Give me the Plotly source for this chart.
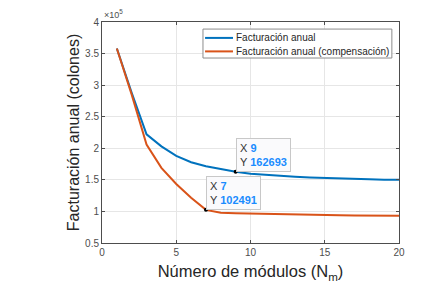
import plotly.graph_objects as go

modules = list(range(1, 21))
fact_anual = [358000, 288000, 222000, 203000, 188000, 178000, 171500, 166500, 162693, 159700,
              157800, 156200, 154900, 153800, 152800, 152000, 151400, 150800, 150300, 150000]
fact_comp = [358000, 285000, 206000, 169000, 143500, 121500, 102491, 97800, 97200, 96600,
             96100, 95600, 95100, 94700, 94300, 94000, 93700, 93400, 93200, 93000]

y_ticks = [50000, 100000, 150000, 200000, 250000, 300000, 350000, 400000]
y_ticklabels = ["0.5", "1", "1.5", "2", "2.5", "3", "3.5", "4"]
x_ticks = [0, 5, 10, 15, 20]

tips = [(9, 162693), (7, 102491)]
series_names = ["Facturación anual", "Facturación anual (compensación)"]

BLUE = "#0072BD"
ORANGE = "#D95319"
FONT = "Liberation Sans, Arial, sans-serif"

fig = go.Figure()
fig.add_trace(go.Scatter(x=modules, y=fact_anual, mode="lines", name=series_names[0],
                         line=dict(color=BLUE, width=2), showlegend=False))
fig.add_trace(go.Scatter(x=modules, y=fact_comp, mode="lines", name=series_names[1],
                         line=dict(color=ORANGE, width=2), showlegend=False))
fig.add_trace(go.Scatter(x=[t[0] for t in tips], y=[t[1] for t in tips], mode="markers",
                         marker=dict(color="black", size=4), showlegend=False, hoverinfo="skip"))

for tx, ty in tips:
    fig.add_annotation(x=tx, y=ty, xref="x", yref="y", showarrow=False,
                       xanchor="left", yanchor="bottom", align="left",
                       text=f"X <b><span style='color:#1a8cff'>{tx}</span></b><br>Y <b><span style='color:#1a8cff'>{ty}</span></b>",
                       font=dict(family=FONT, size=11, color="#333333"),
                       bgcolor="rgba(250,250,252,0.97)", bordercolor="#c8c8c8", borderwidth=1, borderpad=3)

# legend box (MATLAB style)
lx0, lx1, ly0, ly1 = 0.340, 0.976, 0.837, 0.968
fig.add_shape(type="rect", xref="paper", yref="paper", x0=lx0, x1=lx1, y0=ly0, y1=ly1,
              line=dict(color="#8c8c8c", width=1), fillcolor="white", layer="above")
for i, (name, col) in enumerate(zip(series_names, [BLUE, ORANGE])):
    yy = 0.928 - i * 0.061
    fig.add_shape(type="line", xref="paper", yref="paper", x0=0.347, x1=0.441, y0=yy, y1=yy,
                  line=dict(color=col, width=2), layer="above")
    fig.add_annotation(x=0.445, y=yy, xref="paper", yref="paper", xanchor="left", yanchor="middle",
                       showarrow=False, text=name,
                       font=dict(family=FONT, size=10, color="#262626"))

fig.add_annotation(x=0, y=1, xref="paper", yref="paper", xanchor="left", yanchor="bottom",
                   showarrow=False, text="×10<sup>5</sup>",
                   font=dict(family=FONT, size=9, color="#4d4d4d"))

axis_common = dict(showline=True, linecolor="#4d4d4d", linewidth=1, mirror="ticks",
                   ticks="inside", ticklen=3, tickcolor="#4d4d4d",
                   showgrid=True, gridcolor="#e6e6e6", gridwidth=1, zeroline=False,
                   automargin=False,
                   tickfont=dict(family=FONT, size=10, color="#4d4d4d"))

fig.update_xaxes(range=[0, 20], tickvals=x_ticks,
                 title=dict(text="Número de módulos (N<sub>m</sub>)", font=dict(family=FONT, size=16.5, color="#262626"),
                            standoff=8),
                 **axis_common)
fig.update_yaxes(range=[50000, 400000], tickvals=y_ticks, ticktext=y_ticklabels,
                 title=dict(text="Facturación anual (colones)", font=dict(family=FONT, size=16, color="#262626"),
                            standoff=1),
                 **axis_common)

fig.update_layout(
    width=437, height=290,
    margin=dict(l=94, r=46, t=14, b=55),
    paper_bgcolor="white", plot_bgcolor="white",
    showlegend=False,
)

fig.write_html("out.html")
